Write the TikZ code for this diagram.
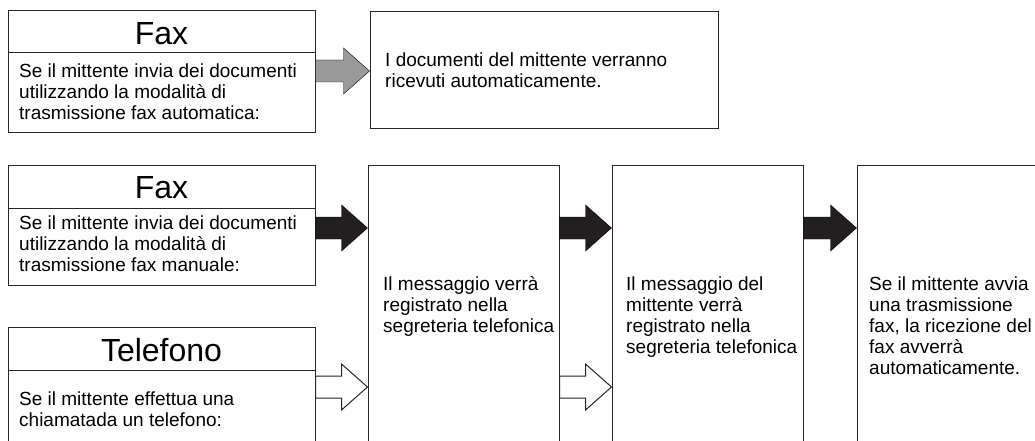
\documentclass[tikz,border=0pt]{standalone}
\usepackage{fontspec}
\setmainfont{Liberation Sans}
\usepackage{tikz}
\usetikzlibrary{positioning,
                calc}
\definecolor{panelline}{HTML}{262626}
\definecolor{autogray}{HTML}{9A9A9A}
\definecolor{manualblack}{HTML}{231F20}

% style, from node, to node, y
\newcommand{\blockarrow}[4]{%
\draw[#1] let \p1=(#2.east |- 0,#4), \p2=(#3.west |- 0,#4) in
(\x1,\y1+11pt) -- (\x2-26pt,\y1+11pt) -- (\x2-26pt,\y1+23pt)
-- (\x2,\y1) -- (\x2-26pt,\y1-23pt) -- (\x2-26pt,\y1-11pt)
-- (\x1,\y1-11pt) -- cycle;}

\begin{document}
\begin{tikzpicture}[x=1pt,y=-1pt]

%--------------------------------------------------
% STYLES
%--------------------------------------------------

\tikzset{
panel/.style={
draw=panelline,
line width=1pt,
inner sep=0pt
},
headtext/.style={
font=\fontsize{32}{36}\selectfont,
anchor=base,
inner sep=0pt
},
bodytext/.style={
font=\fontsize{19}{21}\selectfont,
align=left,
anchor=north west,
inner sep=0pt
}
}

\useasboundingbox (0,0) rectangle (1035,441);
\clip (0,0) rectangle (1035,441);

%--------------------------------------------------
% AUTOMATIC FAX
%--------------------------------------------------

\node[panel,minimum width=307pt,minimum height=121pt]
(faxauto) at (161.5,71.5) {};
\draw[panelline,line width=1pt]
(faxauto.west |- 0,53)--(faxauto.east |- 0,53);

\node[headtext] (faxautohd) at (161.5,45)
{Fax};

\node[bodytext] (faxautotx) at (19,62.3)
{\strut Se il mittente invia dei documenti\\
utilizzando la modalità di\\
trasmissione fax automatica:};

\node[panel,minimum width=348pt,minimum height=116pt]
(autorx) at (544,70) {};

\node[bodytext] (autorxtx) at (385,51.3)
{\strut I documenti del mittente verranno\\
ricevuti automaticamente.};

%--------------------------------------------------
% MANUAL FAX
%--------------------------------------------------

\node[panel,minimum width=307pt,minimum height=120pt]
(faxman) at (161.5,225) {};
\draw[panelline,line width=1pt]
(faxman.west |- 0,208)--(faxman.east |- 0,208);

\node[headtext] (faxmanhd) at (161.5,198)
{Fax};

\node[bodytext] (faxmantx) at (19,214.3)
{\strut Se il mittente invia dei documenti\\
utilizzando la modalità di\\
trasmissione fax manuale:};

%--------------------------------------------------
% TELEPHONE
%--------------------------------------------------

\node[panel,minimum width=307pt,minimum height=143pt]
(phone) at (161.5,398.5) {};
\draw[panelline,line width=1pt]
(phone.west |- 0,370)--(phone.east |- 0,370);

\node[headtext] (phonehd) at (161.5,361)
{Telefono};

\node[bodytext] (phonetx) at (19,390.3)
{\strut Se il mittente effettua una\\
chiamatada un telefono:};

%--------------------------------------------------
% ANSWERING MACHINE
%--------------------------------------------------

\node[panel,minimum width=191pt,minimum height=305pt]
(recA) at (463.5,317.5) {};

\node[bodytext] (recAtx) at (383,275.3)
{\strut Il messaggio verrà\\
registrato nella\\
segreteria telefonica};

\node[panel,minimum width=191pt,minimum height=305pt]
(recB) at (707.5,317.5) {};

\node[bodytext] (recBtx) at (626,275.3)
{\strut Il messaggio del\\
mittente verrà\\
registrato nella\\
segreteria telefonica};

\node[panel,minimum width=203pt,minimum height=305pt]
(autoC) at (958.5,317.5) {};

\node[bodytext] (autoCtx) at (869,275.3)
{\strut Se il mittente avvia\\
una trasmissione\\
fax, la ricezione del\\
fax avverrà\\
automaticamente.};

%--------------------------------------------------
% ARROWS
%--------------------------------------------------

\blockarrow{fill=autogray}{faxauto}{autorx}{71}
\blockarrow{fill=manualblack}{faxman}{recA}{228}
\blockarrow{fill=manualblack}{recA}{recB}{228}
\blockarrow{fill=manualblack}{recB}{autoC}{228}
\blockarrow{draw=panelline,fill=white,line width=1pt}{phone}{recA}{387}
\blockarrow{draw=panelline,fill=white,line width=1pt}{recA}{recB}{387}

\end{tikzpicture}
\end{document}
